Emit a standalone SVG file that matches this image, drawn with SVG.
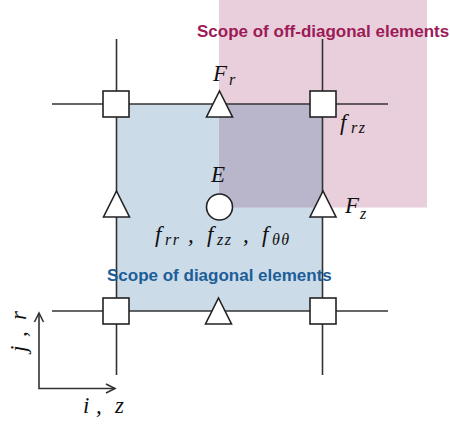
<svg xmlns="http://www.w3.org/2000/svg" width="450" height="425" viewBox="0 0 450 425">
<style>
.ln{stroke:#333;stroke-width:1.6;fill:none}
.nd{fill:#fff;stroke:#222;stroke-width:1.6}
.m{font-family:"Liberation Serif","DejaVu Serif",serif;font-style:italic;fill:#111}
.big{font-size:23px}
.sub{font-size:16px;letter-spacing:1.5px}
.sc{font-family:"Liberation Sans",Arial,sans-serif;font-weight:bold;font-size:17px}
</style>
<defs>
<rect id="sq" x="-13" y="-13" width="26" height="26"/>
<polygon id="tri" points="0,-13 13,13 -13,13"/>
</defs>
<g id="regions">
<rect x="116.5" y="104" width="206" height="207" fill="#cbdbe8"/>
<rect x="219" y="0" width="208" height="207.5" fill="#e8cfdb"/>
<rect x="219" y="104" width="103.5" height="103.5" fill="#b9b6cc"/>
</g>
<g id="connectors">
<line class="ln" x1="116.5" y1="39" x2="116.5" y2="375"/>
<line class="ln" x1="322.5" y1="39" x2="322.5" y2="375"/>
<line class="ln" x1="52" y1="104" x2="388" y2="104"/>
<line class="ln" x1="52" y1="311" x2="388" y2="311"/>
</g>
<g id="axes">
<polyline class="ln" points="39,313 39,388.5 115,388.5" stroke-width="1.4"/>
<polyline class="ln" points="34.5,322 39,313 43.5,322" stroke-width="1.4"/>
<polyline class="ln" points="106,384 115,388.5 106,393" stroke-width="1.4"/>
<text class="m big" y="413"><tspan x="83">i</tspan><tspan x="96">,</tspan><tspan x="115">z</tspan></text>
<text class="m big" transform="translate(25.5,0) rotate(-90)" y="0"><tspan x="-352">j</tspan><tspan x="-337">,</tspan><tspan x="-320">r</tspan></text>
</g>
<g id="n-sq-tl" class="nd"><use href="#sq" x="116" y="104"/></g>
<g id="n-sq-tr" class="nd"><use href="#sq" x="323" y="104"/></g>
<g id="n-sq-bl" class="nd"><use href="#sq" x="116" y="311"/></g>
<g id="n-sq-br" class="nd"><use href="#sq" x="323" y="311"/></g>
<g id="n-tri-top" class="nd"><use href="#tri" x="219.5" y="104"/></g>
<g id="n-tri-bottom" class="nd"><use href="#tri" x="218.5" y="311"/></g>
<g id="n-tri-left" class="nd"><use href="#tri" x="116.5" y="204"/></g>
<g id="n-tri-right" class="nd"><use href="#tri" x="323" y="204"/></g>
<g id="n-center" class="nd"><circle cx="219.5" cy="207" r="13"/></g>
<g id="labels">
<text class="m big" x="213" y="81">F<tspan class="sub" x="229" y="85">r</tspan></text>
<text class="m big" x="211" y="182">E</text>
<text class="m big" x="340" y="130">f<tspan class="sub" x="351" y="133">rz</tspan></text>
<text class="m big" x="345" y="213">F<tspan class="sub" x="360" y="219">z</tspan></text>
<text class="m big" y="242"><tspan x="155">f</tspan><tspan class="sub" x="165" y="245">rr</tspan><tspan x="188" y="242">,</tspan><tspan x="207">f</tspan><tspan class="sub" x="217" y="245">zz</tspan><tspan x="243" y="242">,</tspan><tspan x="262">f</tspan><tspan class="sub" x="272" y="245">θθ</tspan></text>
<text class="sc" x="197" y="37" fill="#9c1b57">Scope of off-diagonal elements</text>
<text class="sc" x="107" y="281" fill="#1c5e98">Scope of diagonal elements</text>
</g>
</svg>
